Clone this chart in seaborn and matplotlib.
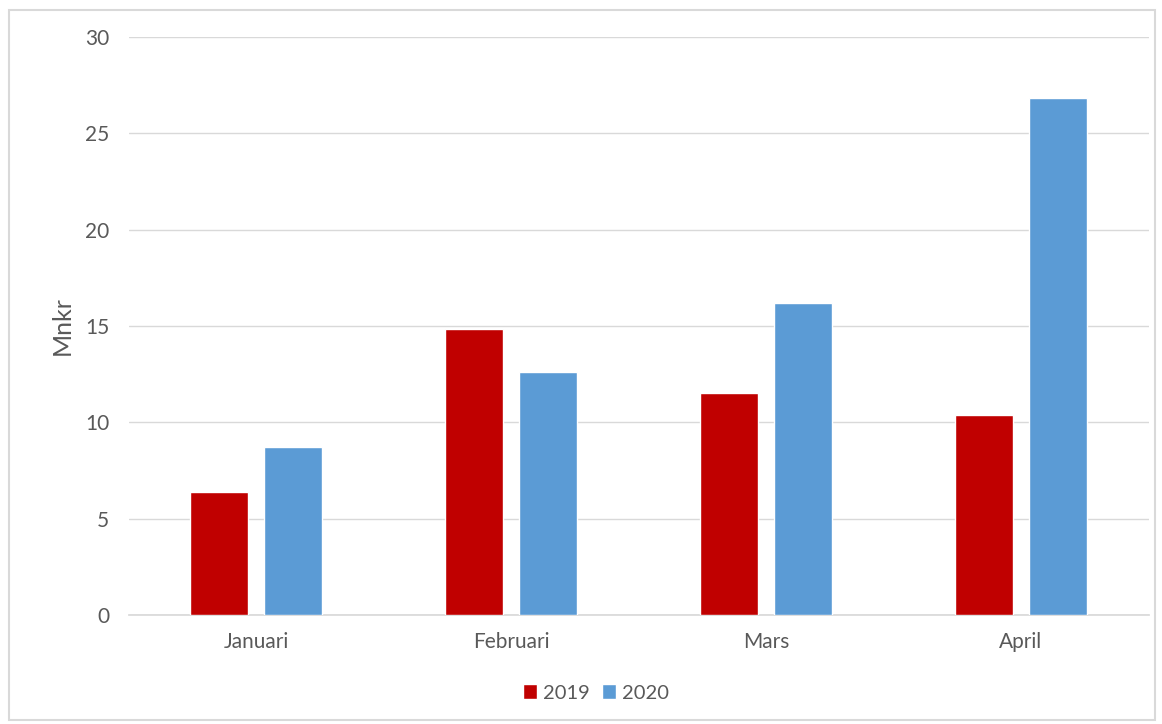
import matplotlib
matplotlib.use("Agg")
import matplotlib.pyplot as plt
from matplotlib.patches import Rectangle
import pandas as pd
import seaborn as sns

months = ["Januari", "Februari", "Mars", "April"]
years = ["2019", "2020"]
values_2019 = [6.38, 14.82, 11.53, 10.37]
values_2020 = [8.71, 12.62, 16.21, 26.82]
colors = {"2019": "#C00000", "2020": "#5B9BD5"}
TEXT = "#595959"

df = pd.DataFrame({
    "month": months * 2,
    "year": [years[0]] * 4 + [years[1]] * 4,
    "value": values_2019 + values_2020,
})

sns.set_theme(style="white")
plt.rcParams["font.family"] = ["Lato", "DejaVu Sans"]

fig = plt.figure(figsize=(11.62, 7.24), dpi=100)
ax = fig.add_axes([128.5 / 1162, 1 - 615 / 724, 1020 / 1162, 578 / 724])

sns.barplot(data=df, x="month", y="value", hue="year", palette=colors,
            width=0.576, gap=0.21, saturation=1, ax=ax, zorder=3)

ax.set_ylim(0, 30)
ax.set_xlim(-0.5, 3.5)
ax.set_yticks(range(0, 31, 5))
ax.yaxis.grid(True, color="#D9D9D9", linewidth=1, zorder=0)
for s in ["top", "right", "left"]:
    ax.spines[s].set_visible(False)
ax.spines["bottom"].set_color("#D9D9D9")
ax.tick_params(axis="both", length=0, colors=TEXT, labelsize=15)
ax.tick_params(axis="x", pad=12)
ax.tick_params(axis="y", pad=14)
ax.set_xlabel("")
ax.set_ylabel("Mnkr", color=TEXT, fontsize=18, labelpad=8)

handles, labels = ax.get_legend_handles_labels()
ax.legend(handles, labels, loc="center",
          bbox_to_anchor=((596 - 128.5) / 1020, (615 - 693) / 578),
          ncol=2, frameon=False, fontsize=14.5, labelcolor=TEXT,
          handlelength=0.7, handleheight=0.7, handletextpad=0.3, columnspacing=0.6)

fig.patches.append(Rectangle((9 / 1162, 4 / 724), 1146 / 1162, 710 / 724,
                             transform=fig.transFigure, fill=False,
                             edgecolor="#D9D9D9", linewidth=1.5))

fig.savefig("out.png", dpi=100)
